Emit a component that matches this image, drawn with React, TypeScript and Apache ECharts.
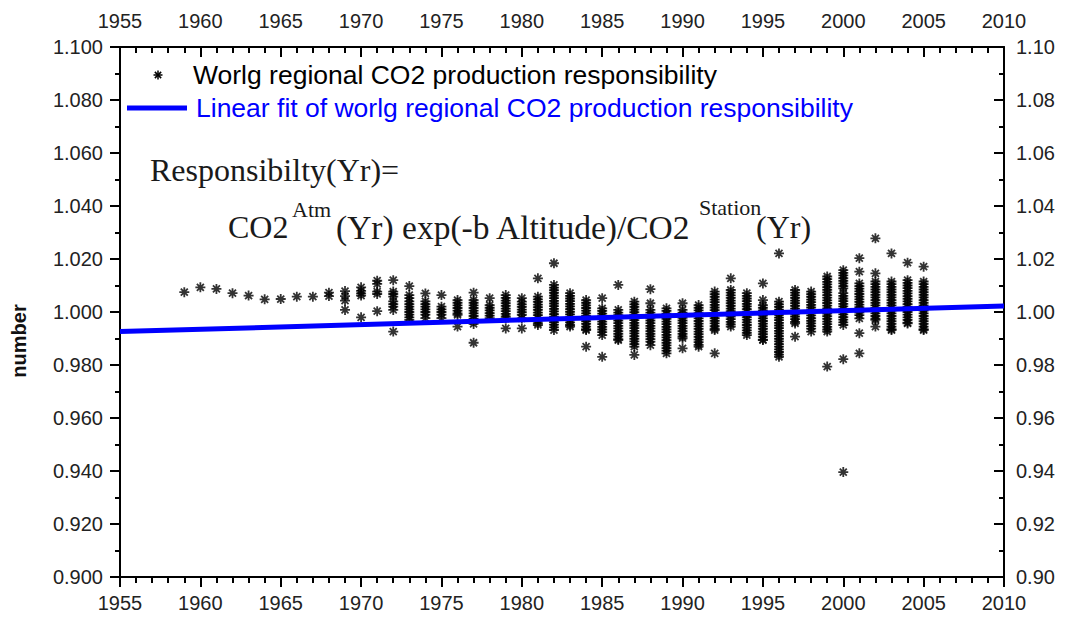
import React, { useEffect, useRef } from "react";
import * as echarts from "echarts";

const years = [
  1959, 1960, 1961, 1962, 1963, 1964, 1965, 1966, 1967, 1968, 1969, 1970, 1971, 1972, 1973, 1974,
  1975, 1976, 1977, 1978, 1979, 1980, 1981, 1982, 1983, 1984, 1985, 1986, 1987, 1988, 1989, 1990,
  1991, 1992, 1993, 1994, 1995, 1996, 1997, 1998, 1999, 2000, 2001, 2002, 2003, 2004, 2005,
];

const responsibility: number[][] = [
  [1.0075],
  [1.0093],
  [1.0087],
  [1.0071],
  [1.0062],
  [1.0048],
  [1.0049],
  [1.0058],
  [1.0058],
  [1.0073, 1.006],
  [1.0079, 1.006, 1.0043, 1.0008],
  [1.0093, 1.008, 1.007, 1.0062, 0.998],
  [1.0118, 1.0106, 1.0077, 1.0068, 1.0003],
  [1.012, 1.0077, 1.0068, 1.0058, 1.004, 1.003, 1.002, 1.0008, 0.9926],
  [1.0098, 1.0064, 1.0052, 1.004, 1.003, 1.002, 1.001, 1.0, 0.999, 0.998, 0.997],
  [1.007, 1.004, 1.003, 1.002, 1.001, 1.0, 0.999, 0.9977],
  [1.0064, 1.002, 1.001, 1.0, 0.999, 0.9977],
  [1.0045, 1.0035, 1.0025, 1.0015, 1.0005, 0.9995, 0.9989, 0.9945],
  [1.0073, 1.0045, 1.0035, 1.0025, 1.0015, 1.0005, 0.9995, 0.9985, 0.9975, 0.9965, 0.9955, 0.9884],
  [1.0052, 1.0026, 1.0016, 1.0006, 0.9996, 0.9986, 0.9977],
  [1.0064, 1.0053, 1.0043, 1.0033, 1.0023, 1.0013, 1.0003, 0.9993, 0.9983, 0.9976, 0.9938],
  [1.0052, 1.0039, 1.0029, 1.0019, 1.0009, 0.9999, 0.9989, 0.9976, 0.9938],
  [1.0127, 1.0058, 1.0048, 1.0038, 1.0028, 1.0018, 1.0008, 0.9998, 0.9988, 0.9978, 0.9968, 0.9958, 0.9951],
  [1.0184, 1.0102, 1.0092, 1.0082, 1.0072, 1.0062, 1.0052, 1.0042, 1.0032, 1.0022, 1.0012, 1.0002, 0.9992, 0.9982, 0.9972, 0.9962, 0.9952, 0.9942, 0.9932],
  [1.0071, 1.0061, 1.0051, 1.0041, 1.0031, 1.0021, 1.0011, 1.0001, 0.9991, 0.9981, 0.9971, 0.9961, 0.9951, 0.9945],
  [1.0045, 1.0035, 1.0025, 1.0015, 1.0005, 0.9995, 0.9985, 0.9975, 0.9965, 0.9955, 0.9945, 0.9935, 0.9932, 0.9869],
  [1.0052, 1.0014, 1.0004, 0.9994, 0.9984, 0.9974, 0.9964, 0.9954, 0.9944, 0.9934, 0.9924, 0.9913, 0.9831],
  [1.0102, 1.0008, 0.9998, 0.9988, 0.9978, 0.9968, 0.9958, 0.9948, 0.9938, 0.9928, 0.9918, 0.9908, 0.9898, 0.9894],
  [1.0039, 1.0029, 1.0019, 1.0009, 0.9999, 0.9989, 0.9979, 0.9969, 0.9959, 0.9949, 0.9939, 0.9929, 0.9919, 0.9909, 0.9899, 0.9889, 0.9879, 0.9869, 0.9838],
  [1.0086, 1.0033, 1.0008, 0.9998, 0.9988, 0.9978, 0.9968, 0.9958, 0.9948, 0.9938, 0.9928, 0.9918, 0.9908, 0.9898, 0.9888, 0.9875],
  [1.0014, 1.0004, 0.9994, 0.9984, 0.9974, 0.9964, 0.9954, 0.9944, 0.9934, 0.9924, 0.9914, 0.9904, 0.9894, 0.9884, 0.9874, 0.9864, 0.9854, 0.9844],
  [1.0033, 1.0008, 0.9998, 0.9988, 0.9978, 0.9968, 0.9958, 0.9948, 0.9938, 0.9928, 0.9918, 0.9908, 0.9901, 0.9863],
  [1.0026, 1.0016, 1.0006, 0.9996, 0.9986, 0.9976, 0.9966, 0.9956, 0.9946, 0.9936, 0.9926, 0.9916, 0.9906, 0.9896, 0.9886, 0.9876, 0.9869],
  [1.0077, 1.0067, 1.0057, 1.0047, 1.0037, 1.0027, 1.0017, 1.0007, 0.9997, 0.9987, 0.9977, 0.9967, 0.9957, 0.9947, 0.9937, 0.9932, 0.9844],
  [1.0127, 1.0083, 1.0073, 1.0063, 1.0053, 1.0043, 1.0033, 1.0023, 1.0013, 1.0003, 0.9993, 0.9983, 0.9973, 0.9963, 0.9953, 0.9945],
  [1.0071, 1.0061, 1.0051, 1.0041, 1.0031, 1.0021, 1.0011, 1.0001, 0.9991, 0.9981, 0.9971, 0.9961, 0.9951, 0.9941, 0.9931, 0.9921, 0.9913],
  [1.0108, 1.0045, 1.0026, 1.0016, 1.0006, 0.9996, 0.9986, 0.9976, 0.9966, 0.9956, 0.9946, 0.9936, 0.9926, 0.9916, 0.9906, 0.9896, 0.9894],
  [1.0221, 1.0039, 1.0029, 1.0019, 1.0009, 0.9999, 0.9989, 0.9979, 0.9969, 0.9959, 0.9949, 0.9939, 0.9929, 0.9919, 0.9909, 0.9899, 0.9889, 0.9879, 0.9869, 0.9859, 0.9849, 0.9839, 0.9831],
  [1.0083, 1.0073, 1.0063, 1.0053, 1.0043, 1.0033, 1.0023, 1.0013, 1.0003, 0.9993, 0.9983, 0.9973, 0.9963, 0.9957, 0.9907],
  [1.0077, 1.0067, 1.0057, 1.0047, 1.0037, 1.0027, 1.0017, 1.0007, 0.9997, 0.9987, 0.9977, 0.9967, 0.9957, 0.9947, 0.9937, 0.9926],
  [1.0134, 1.0124, 1.0114, 1.0104, 1.0094, 1.0084, 1.0074, 1.0064, 1.0054, 1.0044, 1.0034, 1.0024, 1.0014, 1.0004, 0.9994, 0.9984, 0.9974, 0.9964, 0.9954, 0.9944, 0.9934, 0.9926, 0.9794],
  [1.0158, 1.0148, 1.0138, 1.0128, 1.0118, 1.0108, 1.0098, 1.0089, 1.0071, 1.0061, 1.0051, 1.0041, 1.0031, 1.0021, 1.0011, 1.0001, 0.9991, 0.9981, 0.9971, 0.9961, 0.9951, 0.9822, 0.9396],
  [1.0203, 1.0152, 1.0108, 1.0098, 1.0088, 1.0078, 1.0068, 1.0058, 1.0048, 1.0038, 1.0028, 1.0018, 1.0008, 0.9998, 0.9988, 0.9976, 0.992, 0.9844],
  [1.0278, 1.0146, 1.0115, 1.0105, 1.0095, 1.0085, 1.0075, 1.0065, 1.0055, 1.0045, 1.0035, 1.0025, 1.0015, 1.0005, 0.9995, 0.9985, 0.9975, 0.997, 0.9945],
  [1.0221, 1.0115, 1.0105, 1.0095, 1.0085, 1.0075, 1.0065, 1.0055, 1.0045, 1.0035, 1.0025, 1.0015, 1.0005, 0.9995, 0.9985, 0.9975, 0.9965, 0.9955, 0.9945, 0.9935, 0.9932],
  [1.0186, 1.012, 1.011, 1.01, 1.009, 1.008, 1.007, 1.006, 1.005, 1.004, 1.003, 1.002, 1.001, 1.0, 0.999, 0.998, 0.997, 0.996, 0.9957],
  [1.0171, 1.0115, 1.0105, 1.0095, 1.0085, 1.0075, 1.0065, 1.0055, 1.0045, 1.0035, 1.0025, 1.0015, 1.0005, 0.9995, 0.9985, 0.9975, 0.9965, 0.9955, 0.9945, 0.9935, 0.9932],
];

const fitYears = [1955, 2010];
const fitValues = [0.9926, 1.0023];

const legendLabels = [
  "Worlg regional CO2 production responsibility",
  "Linear fit of worlg regional CO2 production responsibility",
];

const STAR = "path://M5,0L5,10M0,5L10,5M1.5,1.5L8.5,8.5M8.5,1.5L1.5,8.5";
const AXIS_FONT = "Liberation Sans, Arial, sans-serif";
const SERIF = "Liberation Serif, Times New Roman, serif";

export default function App() {
  const ref = useRef<HTMLDivElement>(null);

  useEffect(() => {
    if (!ref.current) return;
    const chart = echarts.init(ref.current, undefined, { renderer: "svg" });

    const scatterData: number[][] = [];
    years.forEach((yr, i) => {
      responsibility[i].forEach((v) => scatterData.push([yr, v]));
    });
    const fitData = fitYears.map((y, i) => [y, fitValues[i]]);

    const axisLine = { show: true, lineStyle: { color: "#000", width: 2 } };
    const labelStyle = { color: "#222", fontSize: 20, fontFamily: AXIS_FONT };

    const starGroup = (cx: number, cy: number, r: number) => ({
      type: "group",
      children: [
        { type: "line", shape: { x1: cx - r, y1: cy, x2: cx + r, y2: cy }, style: { stroke: "#000", lineWidth: 1.5 } },
        { type: "line", shape: { x1: cx, y1: cy - r, x2: cx, y2: cy + r }, style: { stroke: "#000", lineWidth: 1.5 } },
        { type: "line", shape: { x1: cx - r * 0.7, y1: cy - r * 0.7, x2: cx + r * 0.7, y2: cy + r * 0.7 }, style: { stroke: "#000", lineWidth: 1.5 } },
        { type: "line", shape: { x1: cx + r * 0.7, y1: cy - r * 0.7, x2: cx - r * 0.7, y2: cy + r * 0.7 }, style: { stroke: "#000", lineWidth: 1.5 } },
      ],
    });

    chart.setOption({
      animation: false,
      backgroundColor: "#fff",
      grid: { left: 120, top: 47, width: 884, height: 530, containLabel: false },
      xAxis: [
        {
          type: "value",
          position: "bottom",
          min: 1955,
          max: 2010,
          interval: 5,
          axisLine,
          axisTick: { show: true, inside: false, length: 10, lineStyle: { color: "#000", width: 2 } },
          minorTick: { show: true, splitNumber: 5, length: 6, lineStyle: { color: "#000", width: 2 } },
          axisLabel: { ...labelStyle, margin: 16, formatter: (v: number) => String(v) },
          splitLine: { show: false },
        },
        {
          type: "value",
          position: "top",
          min: 1955,
          max: 2010,
          interval: 5,
          axisLine,
          axisTick: { show: true, inside: true, length: 10, lineStyle: { color: "#000", width: 2 } },
          minorTick: { show: true, splitNumber: 5, length: 6, lineStyle: { color: "#000", width: 2 } },
          axisLabel: { ...labelStyle, margin: 16, formatter: (v: number) => String(v) },
          splitLine: { show: false },
        },
      ],
      yAxis: [
        {
          type: "value",
          position: "left",
          min: 0.9,
          max: 1.1,
          interval: 0.02,
          axisLine,
          axisTick: { show: true, inside: false, length: 10, lineStyle: { color: "#000", width: 2 } },
          minorTick: { show: true, splitNumber: 2, length: 5, lineStyle: { color: "#000", width: 2 } },
          axisLabel: { ...labelStyle, margin: 17, formatter: (v: number) => v.toFixed(3) },
          splitLine: { show: false },
        },
        {
          type: "value",
          position: "right",
          min: 0.9,
          max: 1.1,
          interval: 0.02,
          axisLine,
          axisTick: { show: true, inside: true, length: 10, lineStyle: { color: "#000", width: 2 } },
          minorTick: { show: true, splitNumber: 2, length: 5, lineStyle: { color: "#000", width: 2 } },
          axisLabel: { ...labelStyle, margin: 12, formatter: (v: number) => v.toFixed(2) },
          splitLine: { show: false },
        },
      ],
      series: [
        {
          name: legendLabels[0],
          type: "scatter",
          xAxisIndex: 0,
          yAxisIndex: 0,
          data: scatterData,
          symbol: STAR,
          symbolSize: 10,
          itemStyle: { color: "#000", borderColor: "#000", borderWidth: 1.8 },
          z: 2,
        },
        {
          name: legendLabels[1],
          type: "line",
          xAxisIndex: 0,
          yAxisIndex: 0,
          data: fitData,
          showSymbol: false,
          symbol: "none",
          lineStyle: { color: "#0000ff", width: 5 },
          z: 3,
        },
      ],
      graphic: [
        starGroup(158, 75, 4.5),
        { type: "line", shape: { x1: 127, y1: 108, x2: 187, y2: 108 }, style: { stroke: "#0000ff", lineWidth: 5 } },
        { type: "text", x: 193, y: 75, style: { text: legendLabels[0], fill: "#000", font: `26.5px ${AXIS_FONT}`, textVerticalAlign: "middle" } },
        { type: "text", x: 196, y: 108, style: { text: legendLabels[1], fill: "#0000ff", font: `26.5px ${AXIS_FONT}`, textVerticalAlign: "middle" } },
        { type: "text", x: 150, y: 170, style: { text: "Responsibilty(Yr)=", fill: "#1a1a1a", font: `32px ${SERIF}`, textVerticalAlign: "middle" } },
        { type: "text", x: 228, y: 227, style: { text: "CO2", fill: "#1a1a1a", font: `32px ${SERIF}`, textVerticalAlign: "middle" } },
        { type: "text", x: 292, y: 209, style: { text: "Atm", fill: "#1a1a1a", font: `22px ${SERIF}`, textVerticalAlign: "middle" } },
        { type: "text", x: 336, y: 227, style: { text: "(Yr) exp(-b Altitude)/CO2", fill: "#1a1a1a", font: `33.5px ${SERIF}`, textVerticalAlign: "middle" } },
        { type: "text", x: 699, y: 207, style: { text: "Station", fill: "#1a1a1a", font: `22px ${SERIF}`, textVerticalAlign: "middle" } },
        { type: "text", x: 756, y: 227, style: { text: "(Yr)", fill: "#1a1a1a", font: `32px ${SERIF}`, textVerticalAlign: "middle" } },
        {
          type: "text",
          x: 19,
          y: 341,
          rotation: Math.PI / 2,
          style: { text: "number", fill: "#111", font: `bold 20px ${AXIS_FONT}`, textAlign: "center", textVerticalAlign: "middle" },
        },
      ],
    });

    return () => chart.dispose();
  }, []);

  return <div ref={ref} style={{ width: 1069, height: 618, position: "absolute", left: 0, top: 0 }} />;
}
